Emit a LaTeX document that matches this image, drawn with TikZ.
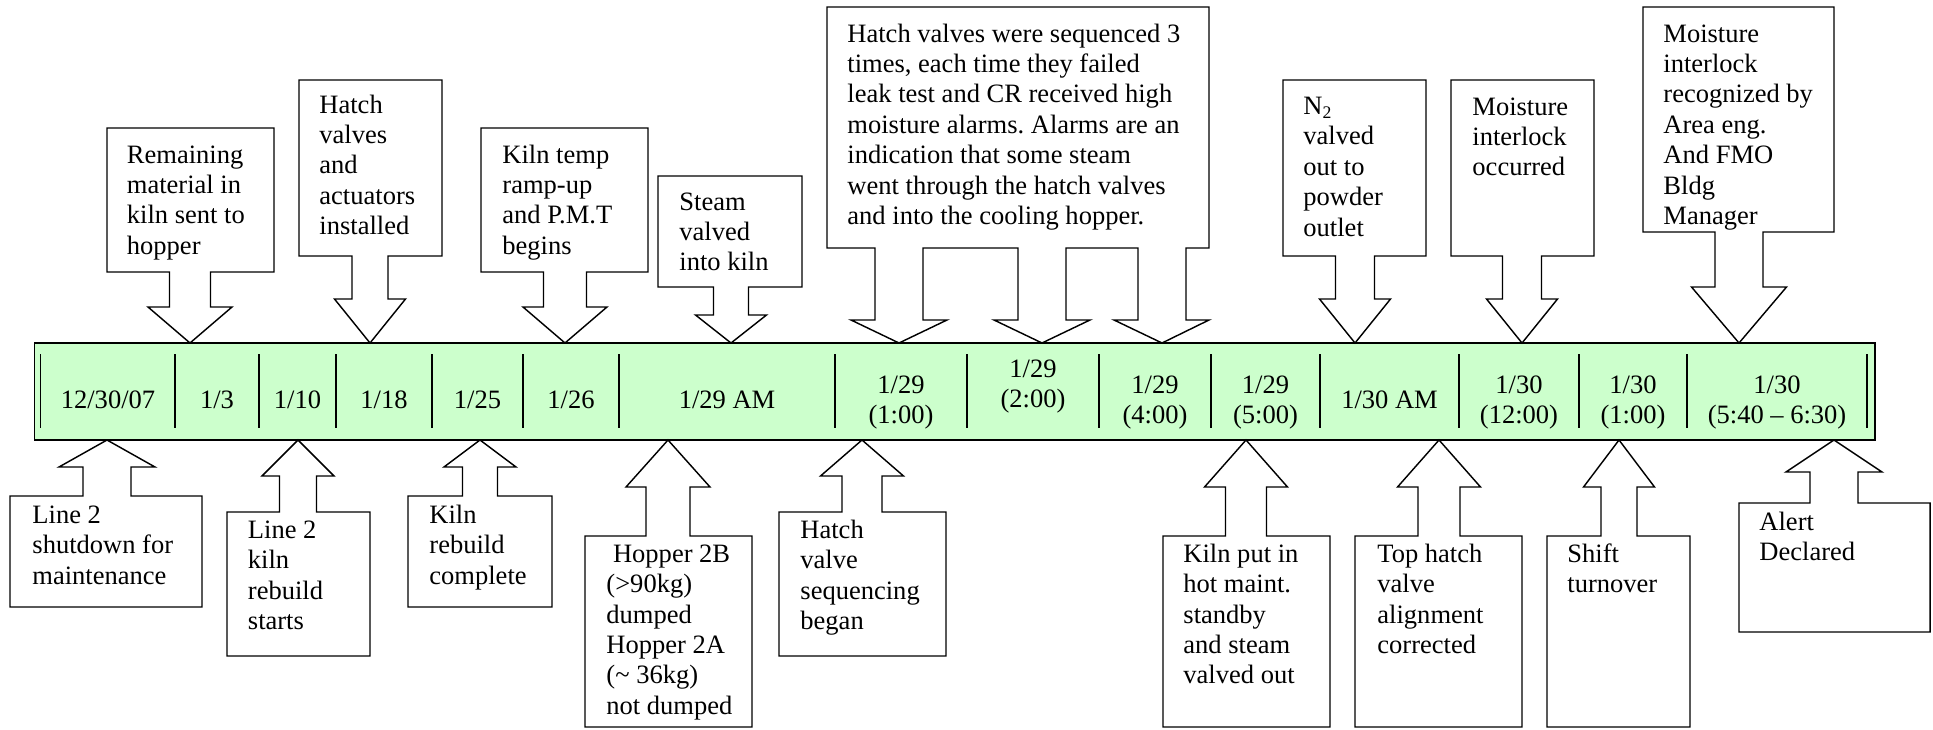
\documentclass[tikz,border=0pt]{standalone}
\usepackage{fontspec}
\setmainfont{Liberation Serif}
\frenchspacing
\definecolor{barfill}{RGB}{204,255,204}
\newcommand{\txtl}[1]{\begin{tabular}[t]{@{}l@{}}#1\end{tabular}}
\newcommand{\txtc}[1]{\begin{tabular}[t]{@{}c@{}}#1\end{tabular}}
% #1 L, #2 R, #3 attach edge y, #4 far edge y, #5 cx, #6 stem half, #7 head half, #8 head base y, #9 tip y
\newcommand{\mkcallout}[9]{\filldraw[cbox] (#1,#3) -- ({#5-#6},#3) -- ({#5-#6},#8) -- ({#5-#7},#8) -- (#5,#9) -- ({#5+#7},#8) -- ({#5+#6},#8) -- ({#5+#6},#3) -- (#2,#3) -- (#2,#4) -- (#1,#4) -- cycle;}
\tikzset{
  cbox/.style={draw=black, fill=white, line width=0.65pt, line join=miter},
  barbox/.style={draw=black, fill=barfill, line width=0.8pt},
  divider/.style={draw=black, line width=0.8pt},
  tx/.style={anchor=base west, inner sep=0pt, font=\fontsize{12}{13.8}\selectfont},
  lab/.style={anchor=base, inner sep=0pt, font=\fontsize{12}{13.8}\selectfont},
}
\begin{document}
\begin{tikzpicture}[x=0.4525pt, y=-0.4525pt]
\useasboundingbox (0,0) rectangle (1933,729);
% timeline bar
\draw[barbox] (34.4,343) rectangle (1875,440);
\foreach \d in {40.6,175,259,336,432,523,619,835,967,1099,1211,1320,1459,1579,1687,1867}
  \draw[divider] (\d,354) -- (\d,428);
% bar labels
\node[lab] (d1) at (108,408) {\txtc{12/30/07}};
\node[lab] (d2) at (217,408) {\txtc{1/3}};
\node[lab] (d3) at (297.5,408) {\txtc{1/10}};
\node[lab] (d4) at (384,408) {\txtc{1/18}};
\node[lab] (d5) at (477.5,408) {\txtc{1/25}};
\node[lab] (d6) at (571,408) {\txtc{1/26}};
\node[lab] (d7) at (727,408) {\txtc{1/29 AM}};
\node[lab] (d8) at (901,393) {\txtc{1/29\\(1:00)}};
\node[lab] (d9) at (1033,377) {\txtc{1/29\\(2:00)}};
\node[lab] (d10) at (1155,393) {\txtc{1/29\\(4:00)}};
\node[lab] (d11) at (1265.5,393) {\txtc{1/29\\(5:00)}};
\node[lab] (d12) at (1389.5,408) {\txtc{1/30 AM}};
\node[lab] (d13) at (1519,393) {\txtc{1/30\\(12:00)}};
\node[lab] (d14) at (1633,393) {\txtc{1/30\\(1:00)}};
\node[lab] (d15) at (1777,393) {\txtc{1/30\\(5:40 -- 6:30)}};
% top callouts
\mkcallout{107}{274}{272}{128}{190}{20.5}{42}{307}{343}
\node[tx] (t1) at (126.5,163) {\txtl{Remaining\\material in\\kiln sent to\\hopper}};
\mkcallout{299}{442}{256}{80}{370}{18}{35.5}{299}{343}
\node[tx] (t2) at (319,113) {\txtl{Hatch\\valves\\and\\actuators\\installed}};
\mkcallout{481}{648}{272}{128}{565}{21.5}{42}{307}{343}
\node[tx] (t3) at (502,163) {\txtl{Kiln temp\\ramp-up\\and P.M.T\\begins}};
\mkcallout{658}{802}{287}{176}{731}{17.5}{35.5}{315}{343}
\node[tx] (t4) at (679,210) {\txtl{Steam\\valved\\into kiln}};
\filldraw[cbox] (827,248) -- (875,248) -- (875,320) -- (851,320) -- (899,343) -- (947,320) -- (923,320) -- (923,248)
  -- (1018,248) -- (1018,320) -- (994,320) -- (1042,343) -- (1090,320) -- (1066,320) -- (1066,248)
  -- (1138,248) -- (1138,320) -- (1114,320) -- (1162,343) -- (1209,320) -- (1186,320) -- (1186,248)
  -- (1209,248) -- (1209,7) -- (827,7) -- cycle;
\node[tx] (t5) at (847,42) {\txtl{Hatch valves were sequenced 3\\times, each time they failed\\leak test and CR received high\\moisture alarms. Alarms are an\\indication that some steam\\went through the hatch valves\\and into the cooling hopper.}};
\mkcallout{1283}{1426}{256}{80}{1355}{19.5}{35.5}{299}{343}
\node[tx] (t6) at (1303,114.5) {\txtl{N\textsubscript{2}\\valved\\out to\\powder\\outlet}};
\mkcallout{1451}{1594}{256}{80}{1522}{19.5}{35.5}{299}{343}
\node[tx] (t7) at (1472,115) {\txtl{Moisture\\interlock\\occurred}};
\mkcallout{1643}{1834}{232}{7}{1739}{24}{47.5}{287}{343}
\begin{scope}
\clip (1643,7) rectangle (1834,232);
\node[tx] (t8) at (1663,42) {\txtl{Moisture\\interlock\\recognized by\\Area eng.\\And FMO\\Bldg\\Manager}};
\end{scope}
% bottom callouts
\mkcallout{10}{202}{496}{607}{107}{24}{48}{467}{440}
\node[tx] (b1) at (32,523) {\txtl{Line 2\\shutdown for\\maintenance}};
\mkcallout{227}{370}{512}{656}{298}{18.5}{36}{476}{440}
\node[tx] (b2) at (247.5,538) {\txtl{Line 2\\kiln\\rebuild\\starts}};
\mkcallout{408}{552}{496}{607}{480}{17.5}{36}{467}{440}
\node[tx] (b3) at (429,523) {\txtl{Kiln\\rebuild\\complete}};
\mkcallout{585}{752}{536}{727}{668}{22}{42}{487}{440}
\node[tx] (b4) at (606,562) {\txtl{\ Hopper 2B\\(>90kg)\\dumped\\Hopper 2A\\(\textasciitilde{} 36kg)\\not dumped}};
\mkcallout{779}{946}{512}{656}{862}{20}{41.5}{476}{440}
\node[tx] (b5) at (800,538) {\txtl{Hatch\\valve\\sequencing\\began}};
\mkcallout{1163}{1330}{536}{727}{1246}{20.5}{41.5}{487}{440}
\node[tx] (b6) at (1183,562) {\txtl{Kiln put in\\hot maint.\\standby\\and steam\\valved out}};
\mkcallout{1355}{1522}{536}{727}{1439}{21}{41.5}{487}{440}
\node[tx] (b7) at (1377,562) {\txtl{Top hatch\\valve\\alignment\\corrected}};
\mkcallout{1547}{1690}{536}{727}{1619}{18}{35.5}{487}{440}
\node[tx] (b8) at (1567,562) {\txtl{Shift\\turnover}};
\mkcallout{1739}{1930}{503}{632}{1834}{24}{48}{472}{440}
\node[tx] (b9) at (1759,530) {\txtl{Alert\\Declared}};
\end{tikzpicture}
\end{document}
